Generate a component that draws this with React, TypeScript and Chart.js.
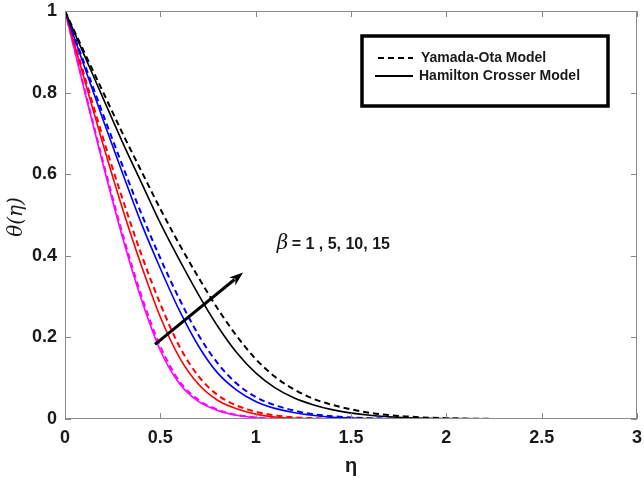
import React, { useEffect, useRef } from "react";
import { Chart, registerables } from "chart.js";

Chart.register(...registerables);

// ---------- data ----------
const ETA = [0, 0.1, 0.2, 0.3, 0.4, 0.5, 0.6, 0.7, 0.8, 0.9, 1.0, 1.1, 1.2, 1.3, 1.4, 1.6, 1.8, 2.0, 2.5, 3.0];

// beta = 1 (magenta)
const HC_BETA1 = [1, 0.809, 0.623, 0.448, 0.294, 0.168, 0.087, 0.043, 0.021, 0.009, 0.003, 0.001, 0, 0, 0, 0, 0, 0, 0, 0];
const YO_BETA1 = [1, 0.813, 0.63, 0.457, 0.303, 0.178, 0.093, 0.047, 0.023, 0.01, 0.004, 0.001, 0, 0, 0, 0, 0, 0, 0, 0];
// beta = 5 (red)
const HC_BETA5 = [1, 0.835, 0.672, 0.518, 0.377, 0.25, 0.151, 0.085, 0.046, 0.025, 0.012, 0.005, 0.002, 0.001, 0, 0, 0, 0, 0, 0];
const YO_BETA5 = [1, 0.844, 0.688, 0.542, 0.404, 0.282, 0.178, 0.105, 0.059, 0.033, 0.018, 0.009, 0.004, 0.002, 0.001, 0, 0, 0, 0, 0];
// beta = 10 (blue)
const HC_BETA10 = [1, 0.866, 0.733, 0.605, 0.48, 0.369, 0.266, 0.179, 0.113, 0.071, 0.043, 0.026, 0.016, 0.009, 0.004, 0.001, 0, 0, 0, 0];
const YO_BETA10 = [1, 0.873, 0.746, 0.623, 0.504, 0.394, 0.294, 0.206, 0.137, 0.087, 0.054, 0.034, 0.021, 0.012, 0.007, 0.002, 0.001, 0, 0, 0];
// beta = 15 (black)
const HC_BETA15 = [1, 0.893, 0.786, 0.68, 0.58, 0.48, 0.39, 0.305, 0.228, 0.163, 0.113, 0.077, 0.052, 0.035, 0.023, 0.009, 0.003, 0.001, 0, 0];
const YO_BETA15 = [1, 0.9, 0.801, 0.702, 0.608, 0.515, 0.428, 0.347, 0.271, 0.204, 0.147, 0.104, 0.073, 0.05, 0.035, 0.015, 0.006, 0.002, 0, 0];

const X_TICKS = [0, 0.5, 1, 1.5, 2, 2.5, 3];
const Y_TICKS = [0, 0.2, 0.4, 0.6, 0.8, 1];

const X_TITLE = "η";
const Y_TITLE = "θ(η)";
const LEGEND_YO = "Yamada-Ota Model";
const LEGEND_HC = "Hamilton Crosser Model";
const BETA_SYMBOL = "β";
const BETA_VALUES = "= 1 , 5, 10, 15";

// annotation anchors in data units
const ARROW_FROM = { x: 0.472, y: 0.183 };
const ARROW_TO = { x: 0.934, y: 0.359 };
const LABEL_AT = { x: 1.11, y: 0.43 };

const SANS = "'Liberation Sans', Arial, Helvetica, sans-serif";
const SERIF = "'DejaVu Serif', 'Liberation Serif', serif";
const DASH = [6, 4];

function series(values: number[]) {
  return ETA.map((x, i) => ({ x, y: values[i] }));
}

const overlayPlugin = {
  id: "overlay",
  afterDraw(chart: any) {
    const ctx = chart.ctx;
    const { left, right, top, bottom } = chart.chartArea;
    const xs = chart.scales.x;
    const ys = chart.scales.y;
    ctx.save();

    // frame
    ctx.strokeStyle = "#8a8a8a";
    ctx.lineWidth = 1;
    ctx.setLineDash([]);
    ctx.strokeRect(left + 0.5, top + 0.5, right - left - 1, bottom - top - 1);
    // inward ticks
    const tl = 6;
    ctx.beginPath();
    X_TICKS.forEach((v) => {
      const px = Math.round(xs.getPixelForValue(v)) + 0.5;
      ctx.moveTo(px, bottom);
      ctx.lineTo(px, bottom - tl);
      ctx.moveTo(px, top);
      ctx.lineTo(px, top + tl);
    });
    Y_TICKS.forEach((v) => {
      const py = Math.round(ys.getPixelForValue(v)) + 0.5;
      ctx.moveTo(left, py);
      ctx.lineTo(left + tl, py);
      ctx.moveTo(right, py);
      ctx.lineTo(right - tl, py);
    });
    ctx.stroke();

    // axis titles
    ctx.fillStyle = "#1a1a1a";
    ctx.font = `bold 20px ${SANS}`;
    ctx.textAlign = "center";
    ctx.textBaseline = "middle";
    ctx.fillText(X_TITLE, (left + right) / 2, 466);

    ctx.save();
    ctx.translate(17, (top + bottom) / 2 + 2);
    ctx.rotate(-Math.PI / 2);
    ctx.font = `italic 20px ${SERIF}`;
    ctx.fillText(Y_TITLE, 0, 0);
    ctx.restore();

    // legend box
    const bx = right - 275;
    const by = top + 25;
    const bw = 246;
    const bh = 70;
    ctx.fillStyle = "#fff";
    ctx.fillRect(bx, by, bw, bh);
    ctx.strokeStyle = "#000";
    ctx.lineWidth = 3.5;
    ctx.strokeRect(bx, by, bw, bh);

    ctx.lineWidth = 2;
    ctx.setLineDash(DASH);
    ctx.beginPath();
    ctx.moveTo(bx + 16, by + 22);
    ctx.lineTo(bx + 51, by + 22);
    ctx.stroke();
    ctx.setLineDash([]);
    ctx.beginPath();
    ctx.moveTo(bx + 13, by + 40);
    ctx.lineTo(bx + 51, by + 40);
    ctx.stroke();

    ctx.fillStyle = "#1a1a1a";
    ctx.font = `bold 14px ${SANS}`;
    ctx.textAlign = "left";
    ctx.textBaseline = "middle";
    ctx.fillText(LEGEND_YO, bx + 59, by + 22);
    ctx.fillText(LEGEND_HC, bx + 57, by + 40);

    // annotation text
    const lx = xs.getPixelForValue(LABEL_AT.x);
    const ly = ys.getPixelForValue(LABEL_AT.y);
    ctx.font = `italic 20px ${SERIF}`;
    ctx.fillText(BETA_SYMBOL, lx, ly);
    ctx.font = `bold 16px ${SANS}`;
    ctx.fillText(BETA_VALUES, lx + 15, ly + 1);

    // arrow
    const ax0 = xs.getPixelForValue(ARROW_FROM.x);
    const ay0 = ys.getPixelForValue(ARROW_FROM.y);
    const ax1 = xs.getPixelForValue(ARROW_TO.x);
    const ay1 = ys.getPixelForValue(ARROW_TO.y);
    const ang = Math.atan2(ay1 - ay0, ax1 - ax0);
    const hl = 14;
    const hw = 5;
    const bxp = ax1 - hl * Math.cos(ang);
    const byp = ay1 - hl * Math.sin(ang);
    ctx.strokeStyle = "#000";
    ctx.lineWidth = 3;
    ctx.beginPath();
    ctx.moveTo(ax0, ay0);
    ctx.lineTo(bxp + 3 * Math.cos(ang), byp + 3 * Math.sin(ang));
    ctx.stroke();
    ctx.fillStyle = "#000";
    ctx.beginPath();
    ctx.moveTo(ax1, ay1);
    ctx.lineTo(bxp - hw * Math.sin(ang), byp + hw * Math.cos(ang));
    ctx.lineTo(bxp + 4 * Math.cos(ang), byp + 4 * Math.sin(ang));
    ctx.lineTo(bxp + hw * Math.sin(ang), byp - hw * Math.cos(ang));
    ctx.closePath();
    ctx.fill();

    ctx.restore();
  },
};

export default function App() {
  const canvasRef = useRef<HTMLCanvasElement | null>(null);

  useEffect(() => {
    const canvas = canvasRef.current;
    if (!canvas) return;

    const mk = (label: string, values: number[], color: string, dashed: boolean) => ({
      label,
      data: series(values),
      borderColor: color,
      backgroundColor: color,
      borderWidth: dashed ? 2 : 1.6,
      borderDash: dashed ? DASH : [],
      pointRadius: 0,
      fill: false,
      cubicInterpolationMode: "monotone" as const,
    });

    const fmt = (v: any) => `${Number(v)}`;

    const chart = new Chart(canvas, {
      type: "line",
      data: {
        datasets: [
          mk("YO β=15", YO_BETA15, "#000000", true),
          mk("HC β=15", HC_BETA15, "#000000", false),
          mk("YO β=10", YO_BETA10, "#0000ff", true),
          mk("HC β=10", HC_BETA10, "#0000ff", false),
          mk("YO β=5", YO_BETA5, "#ff0000", true),
          mk("HC β=5", HC_BETA5, "#ff0000", false),
          mk("YO β=1", YO_BETA1, "#ff00ff", true),
          mk("HC β=1", HC_BETA1, "#ff00ff", false),
        ],
      },
      options: {
        responsive: false,
        animation: false,
        devicePixelRatio: 1,
        layout: { padding: { top: 11, right: 7, left: 0, bottom: 0 } },
        plugins: { legend: { display: false }, tooltip: { enabled: false } },
        scales: {
          x: {
            type: "linear",
            min: 0,
            max: 3,
            afterBuildTicks: (s: any) => {
              s.ticks = X_TICKS.map((value) => ({ value }));
            },
            afterFit: (s: any) => {
              s.height = 62;
              s.paddingLeft = 0;
              s.paddingRight = 0;
            },
            grid: { display: false, drawTicks: false },
            border: { display: false },
            ticks: {
              color: "#1a1a1a",
              font: { family: SANS, size: 18, weight: "bold" },
              padding: 8,
              maxRotation: 0,
              autoSkip: false,
              callback: fmt,
            },
          },
          y: {
            type: "linear",
            min: 0,
            max: 1,
            afterBuildTicks: (s: any) => {
              s.ticks = Y_TICKS.map((value) => ({ value }));
            },
            afterFit: (s: any) => {
              s.width = 65;
              s.paddingTop = 0;
              s.paddingBottom = 0;
            },
            grid: { display: false, drawTicks: false },
            border: { display: false },
            ticks: {
              color: "#1a1a1a",
              font: { family: SANS, size: 18, weight: "bold" },
              padding: 8,
              autoSkip: false,
              callback: fmt,
            },
          },
        },
      },
      plugins: [overlayPlugin],
    });

    return () => chart.destroy();
  }, []);

  return (
    <div style={{ position: "absolute", left: 0, top: 0, width: 644, height: 481, background: "#fff" }}>
      <canvas ref={canvasRef} width={644} height={481} style={{ display: "block" }} />
    </div>
  );
}
